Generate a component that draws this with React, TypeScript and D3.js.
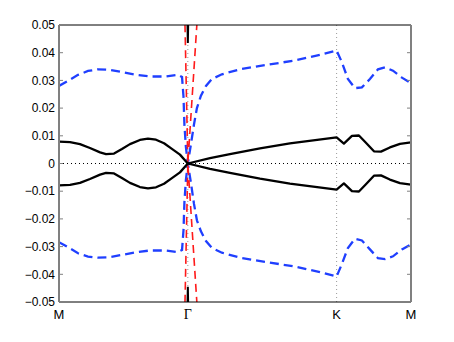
import React, { useEffect, useRef } from 'react';
import * as d3 from 'd3';

// k-path: M -> Gamma -> K -> M  (|MG| : |GK| : |KM| = sqrt(3)/2 : 1 : 1/2)
const pathTicks = [0, 0.866, 1.866, 2.366];
const pathLabels = ['M', 'Γ', 'K', 'M'];
const yTicks = [-0.05, -0.04, -0.03, -0.02, -0.01, 0, 0.01, 0.02, 0.03, 0.04, 0.05];

// black solid bands
const blackK = [0, 0.074, 0.141, 0.208, 0.276, 0.316, 0.37, 0.423, 0.477, 0.544, 0.598, 0.652, 0.706, 0.759, 0.813, 0.866,
  1.015, 1.149, 1.351, 1.552, 1.866, 1.915, 1.969, 2.016, 2.063, 2.117, 2.164, 2.224, 2.292, 2.366];
const blackUp = [0.0079, 0.0077, 0.007, 0.0056, 0.004, 0.0034, 0.0036, 0.0052, 0.007, 0.0085, 0.009, 0.0086, 0.0073, 0.0053, 0.0032, 0,
  0.0019, 0.0034, 0.0055, 0.0073, 0.0094, 0.0072, 0.01, 0.0101, 0.0075, 0.0044, 0.0043, 0.0058, 0.0071, 0.0076];
const blackDown = [-0.0079, -0.0077, -0.007, -0.0056, -0.004, -0.0034, -0.0036, -0.0052, -0.007, -0.0085, -0.009, -0.0086, -0.0073, -0.0053, -0.0032, 0,
  -0.0019, -0.0034, -0.0055, -0.0073, -0.0094, -0.0072, -0.01, -0.0101, -0.0075, -0.0044, -0.0043, -0.0058, -0.0071, -0.0076];

// steep black branches at Gamma
const spikeK = [0.862, 0.866, 0.87];
const spikeUp = [0.055, 0.0435, 0.055];
const spikeDown = [-0.056, -0.0445, -0.056];

// blue dashed bands
const blueK = [0, 0.06, 0.128, 0.195, 0.262, 0.343, 0.423, 0.517, 0.612, 0.712, 0.8, 0.827, 0.837, 0.843, 0.853, 0.866,
  0.887, 0.907, 0.927, 0.954, 0.988, 1.028, 1.095, 1.216, 1.384, 1.586, 1.754, 1.866,
  1.902, 1.942, 1.989, 2.036, 2.09, 2.144, 2.191, 2.245, 2.305, 2.366];
const blueUp = [0.028, 0.0298, 0.032, 0.0334, 0.034, 0.0338, 0.033, 0.032, 0.0314, 0.0314, 0.032, 0.0312, 0.024, 0.014, 0.006, 0,
  0.007, 0.014, 0.02, 0.0245, 0.028, 0.0305, 0.0322, 0.034, 0.0355, 0.0372, 0.0392, 0.0408,
  0.0365, 0.0305, 0.0272, 0.0275, 0.0305, 0.034, 0.0347, 0.0335, 0.031, 0.029];
const blueDown = [-0.0284, -0.0302, -0.0324, -0.0336, -0.034, -0.0338, -0.033, -0.032, -0.0314, -0.0314, -0.032, -0.0312, -0.024, -0.014, -0.006, 0,
  -0.007, -0.0145, -0.0205, -0.0245, -0.028, -0.0305, -0.0322, -0.034, -0.0355, -0.0372, -0.0392, -0.0408,
  -0.0362, -0.0305, -0.0272, -0.0278, -0.031, -0.0342, -0.0345, -0.0335, -0.031, -0.0292];

// red dashed light-cone lines
const redK = [0.845, 0.866, 0.935];
const redUp = [0.055, 0, 0.057];
const redDown = [-0.055, 0, -0.057];

const W = 454, H = 342;
const margin = { top: 25, right: 43, bottom: 40, left: 59 };

const draw = (node: SVGSVGElement) => {
  const svg = d3.select(node);
  svg.selectAll('*').remove();
  const width = W - margin.left - margin.right;
  const height = H - margin.top - margin.bottom;
  const font = '"Liberation Sans", Arial, sans-serif';

  const x = d3.scaleLinear().domain([0, 2.366]).range([margin.left, margin.left + width]);
  const y = d3.scaleLinear().domain([-0.05, 0.05]).range([margin.top + height, margin.top]);

  svg.append('rect').attr('width', W).attr('height', H).attr('fill', '#fff');

  svg.append('defs').append('clipPath').attr('id', 'plotclip')
    .append('rect').attr('x', margin.left).attr('y', margin.top).attr('width', width).attr('height', height);

  const plot = svg.append('g').attr('clip-path', 'url(#plotclip)');

  // dotted guide lines
  plot.append('line')
    .attr('x1', x(0)).attr('x2', x(2.366)).attr('y1', y(0)).attr('y2', y(0))
    .attr('stroke', '#000').attr('stroke-width', 1).attr('stroke-dasharray', '1,3');
  [pathTicks[1], pathTicks[2]].forEach(k => {
    plot.append('line')
      .attr('x1', x(k)).attr('x2', x(k)).attr('y1', y(-0.05)).attr('y2', y(0.05))
      .attr('stroke', '#999').attr('stroke-width', 1).attr('stroke-dasharray', '1,3');
  });

  const line = (ks: number[], vs: number[]) =>
    d3.line<number>().x((_, i) => x(ks[i])).y(d => y(d))(vs);

  // blue dashed
  [blueUp, blueDown].forEach(vs => {
    plot.append('path').attr('d', line(blueK, vs))
      .attr('fill', 'none').attr('stroke', '#1f3fff').attr('stroke-width', 2.3)
      .attr('stroke-dasharray', '9,5');
  });
  // red dashed
  [redUp, redDown].forEach(vs => {
    plot.append('path').attr('d', line(redK, vs))
      .attr('fill', 'none').attr('stroke', '#ff1a1a').attr('stroke-width', 1.6)
      .attr('stroke-dasharray', '8,5');
  });
  // black solid
  [blackUp, blackDown].forEach(vs => {
    plot.append('path').attr('d', line(blackK, vs))
      .attr('fill', 'none').attr('stroke', '#000').attr('stroke-width', 2.3)
      .attr('stroke-linejoin', 'round');
  });
  [spikeUp, spikeDown].forEach(vs => {
    plot.append('path').attr('d', line(spikeK, vs))
      .attr('fill', 'none').attr('stroke', '#000').attr('stroke-width', 2);
  });

  // box
  svg.append('line').attr('x1', x(0)).attr('x2', x(2.366)).attr('y1', y(0.05)).attr('y2', y(0.05))
    .attr('stroke', '#000').attr('stroke-width', 1);
  svg.append('line').attr('x1', x(0)).attr('x2', x(2.366)).attr('y1', y(-0.05)).attr('y2', y(-0.05))
    .attr('stroke', '#000').attr('stroke-width', 1);
  [x(0), x(2.366)].forEach(px => {
    svg.append('line').attr('x1', px).attr('x2', px).attr('y1', y(0.05)).attr('y2', y(-0.05))
      .attr('stroke', '#808080').attr('stroke-width', 2);
  });

  // y ticks (inward on both sides) and labels
  const yg = svg.append('g');
  yTicks.forEach(t => {
    yg.append('line').attr('x1', x(0)).attr('x2', x(0) + 4).attr('y1', y(t)).attr('y2', y(t))
      .attr('stroke', '#808080').attr('stroke-width', 1);
    yg.append('line').attr('x1', x(2.366) - 4).attr('x2', x(2.366)).attr('y1', y(t)).attr('y2', y(t))
      .attr('stroke', '#808080').attr('stroke-width', 1);
    yg.append('text')
      .attr('x', x(0) - 4).attr('y', y(t)).attr('dy', '0.35em')
      .attr('text-anchor', 'end').attr('font-family', font).attr('font-size', 12)
      .attr('fill', '#000')
      .text(t === 0 ? '0' : (t < 0 ? '\u2212' : '') + Math.abs(t).toFixed(2));
  });

  // x labels
  pathTicks.forEach((k, i) => {
    svg.append('text')
      .attr('x', x(k)).attr('y', y(-0.05) + 17)
      .attr('text-anchor', 'middle')
      .attr('font-family', pathLabels[i] === 'Γ' ? '"Liberation Serif", serif' : font)
      .attr('font-size', pathLabels[i] === 'Γ' ? 14 : 13)
      .attr('fill', '#000')
      .text(pathLabels[i]);
  });
};

const App = () => {
  const ref = useRef<SVGSVGElement>(null);
  useEffect(() => {
    if (ref.current) draw(ref.current);
  }, []);
  return (
    <svg ref={ref} width={W} height={H}
      style={{ position: 'absolute', left: 0, top: 0, display: 'block' }} />
  );
};

export default App;
